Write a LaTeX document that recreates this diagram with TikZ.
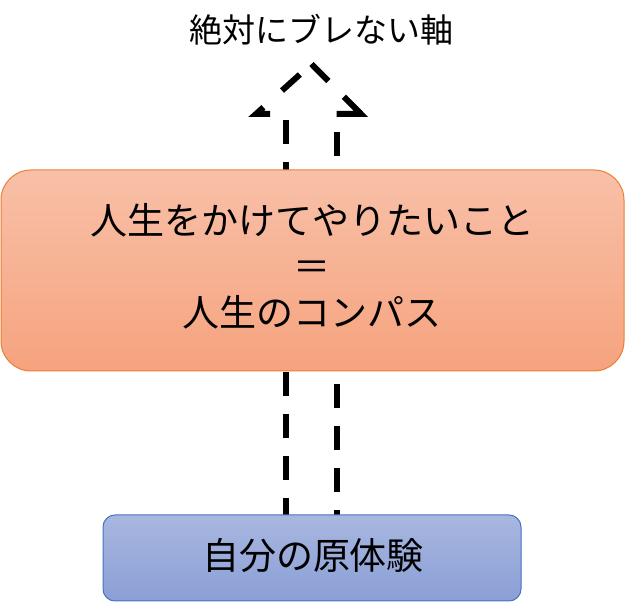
\documentclass[tikz,border=0pt]{standalone}
\usepackage{fontspec}
\setmainfont{Noto Sans CJK JP}
\newfontfamily\jpfont{Noto Sans CJK JP}
\definecolor{bigtop}{HTML}{F8C0A8}
\definecolor{bigbot}{HTML}{F6A37E}
\definecolor{bigline}{HTML}{ED7D31}
\definecolor{smalltop}{HTML}{A9B7E0}
\definecolor{smallbot}{HTML}{8A9FD6}
\definecolor{smallline}{HTML}{4472C4}
\tikzset{
  arrowline/.style={line width=6pt, line cap=butt, line join=miter, black},
  bigbox/.style={draw=bigline, line width=1pt, rounded corners=30pt, top color=bigtop, bottom color=bigbot,
    minimum width=623pt, minimum height=201pt, inner sep=0pt},
  bigtext/.style={inner sep=0pt, align=center, font=\jpfont\fontsize{37}{46}\selectfont},
  smallbox/.style={draw=smallline, line width=1pt, rounded corners=12pt, top color=smalltop, bottom color=smallbot,
    minimum width=418pt, minimum height=86pt, inner sep=0pt},
  smalltext/.style={inner sep=0pt, font=\jpfont\fontsize{37}{44}\selectfont},
  toplabel/.style={inner sep=0pt, font=\jpfont\fontsize{33}{38}\selectfont}
}
\begin{document}
\begin{tikzpicture}[x=1pt,y=-1pt]
\useasboundingbox (0,0) rectangle (625,604);
% arrow outline
\coordinate (A) at (311.5,64);
\coordinate (R) at (361,114);
\coordinate (RS) at (336.5,114);
\coordinate (RB) at (336.5,540);
\coordinate (LB) at (286,540);
\coordinate (LS) at (286,114);
\coordinate (L) at (256,114);
\draw[arrowline, dash pattern=on 24pt off 22pt on 50pt off 200pt] (A) -- (R) -- (RS);
\draw[arrowline, dash pattern=on 24pt off 18pt, dash phase=24pt] (RS) -- (RB);
\draw[arrowline, dash pattern=on 24pt off 18pt, dash phase=36pt] (LS) -- (LB);
\draw[arrowline, dash pattern=on 0pt off 16pt on 24pt off 25pt on 24pt off 100pt] (LS) -- (L) -- (A);
% boxes
\node[bigbox] (compass) at (312.5,270.5) {};
\node[bigtext] (compasstext) at (312.5,266.5) {人生をかけてやりたいこと\\＝\\人生のコンパス};
\node[smallbox] (origin) at (312,558) {};
\node[smalltext] (origintext) at (313,555.5) {自分の原体験};
\node[toplabel] (axis) at (321.5,30) {絶対にブレない軸};
\end{tikzpicture}
\end{document}
